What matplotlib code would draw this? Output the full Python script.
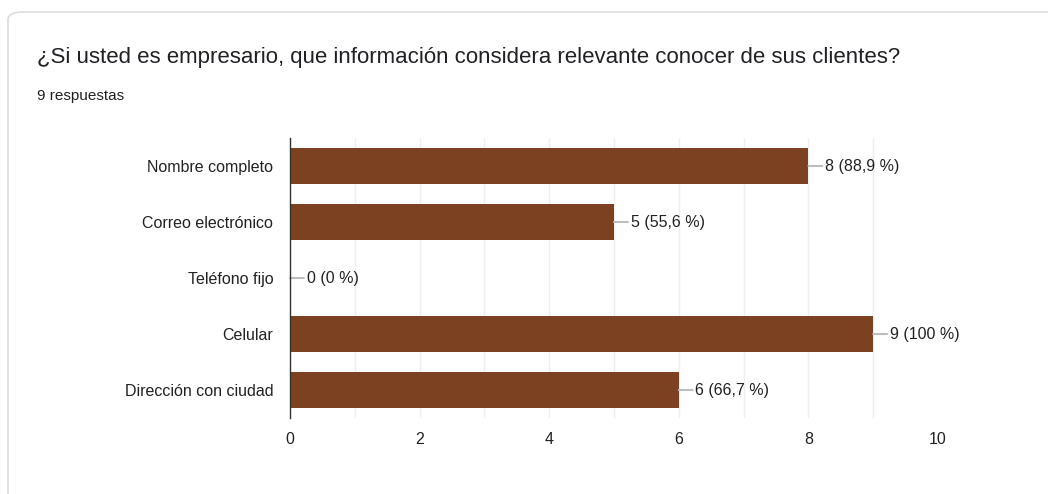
import matplotlib.pyplot as plt
from matplotlib.patches import FancyBboxPatch

# DATA
categories = ["Nombre completo", "Correo electrónico", "Teléfono fijo", "Celular", "Dirección con ciudad"]
counts = [8, 5, 0, 9, 6]
total = 9
title = "¿Si usted es empresario, que información considera relevante conocer de sus clientes?"
subtitle = "9 respuestas"

W, H = 1048, 494
fig = plt.figure(figsize=(W / 100, H / 100), dpi=100)
fig.patch.set_facecolor("white")

# CARD BORDER (behind everything)
card = FancyBboxPatch((8 / W, -0.1), 1.1, (H - 12) / H + 0.1,
                      boxstyle="round,pad=0,rounding_size=0.015",
                      transform=fig.transFigure, facecolor="white",
                      edgecolor="#dadce0", linewidth=1.2, zorder=-10)
fig.patches.append(card)

fig.text(37 / W, 1 - 57 / H, title, fontsize=16, family="Liberation Sans",
         color="#202124", va="center", ha="left")
fig.text(37 / W, 1 - 96 / H, subtitle, fontsize=11, family="Liberation Sans",
         color="#202124", va="center", ha="left")

# AXES
ax = fig.add_axes([290 / W, 1 - 418 / H, (938 - 290) / W, (418 - 138) / H])
ax.patch.set_alpha(0)
y = list(range(len(categories)))
ax.barh(y, counts, height=0.63, color="#7b4120", zorder=3)

ax.set_xlim(0, 10)
ax.set_ylim(len(categories) - 0.5, -0.5)
ax.set_xticks([0, 2, 4, 6, 8, 10])
ax.set_xticks(range(0, 11), minor=True)
ax.set_yticks(y)
ax.set_yticklabels(categories)
ax.grid(axis="x", which="both", color="#eeeeee", linewidth=1, zorder=0)
ax.tick_params(axis="both", which="both", length=0, labelsize=11.5, labelcolor="#222222")
ax.tick_params(axis="y", pad=12)
ax.tick_params(axis="x", pad=10)
for lab in ax.get_xticklabels() + ax.get_yticklabels():
    lab.set_family("Liberation Sans")

for s in ["top", "right", "bottom"]:
    ax.spines[s].set_visible(False)
ax.spines["left"].set_color("#333333")
ax.spines["left"].set_linewidth(1)
ax.spines["left"].set_zorder(4)

# VALUE LABELS
for yi, c in zip(y, counts):
    pct = c / total * 100
    if pct == round(pct):
        ptxt = "%d %%" % round(pct)
    else:
        ptxt = ("%.1f %%" % pct).replace(".", ",")
    ax.annotate("%d (%s)" % (c, ptxt), xy=(c, yi), xytext=(12, 0),
                textcoords="offset points", va="center", ha="left",
                fontsize=11.5, family="Liberation Sans", color="#222222",
                arrowprops=dict(arrowstyle="-", color="#bdbdbd", lw=1.5,
                                shrinkA=0, shrinkB=0))

fig.savefig("out.png", dpi=100, facecolor="white")
